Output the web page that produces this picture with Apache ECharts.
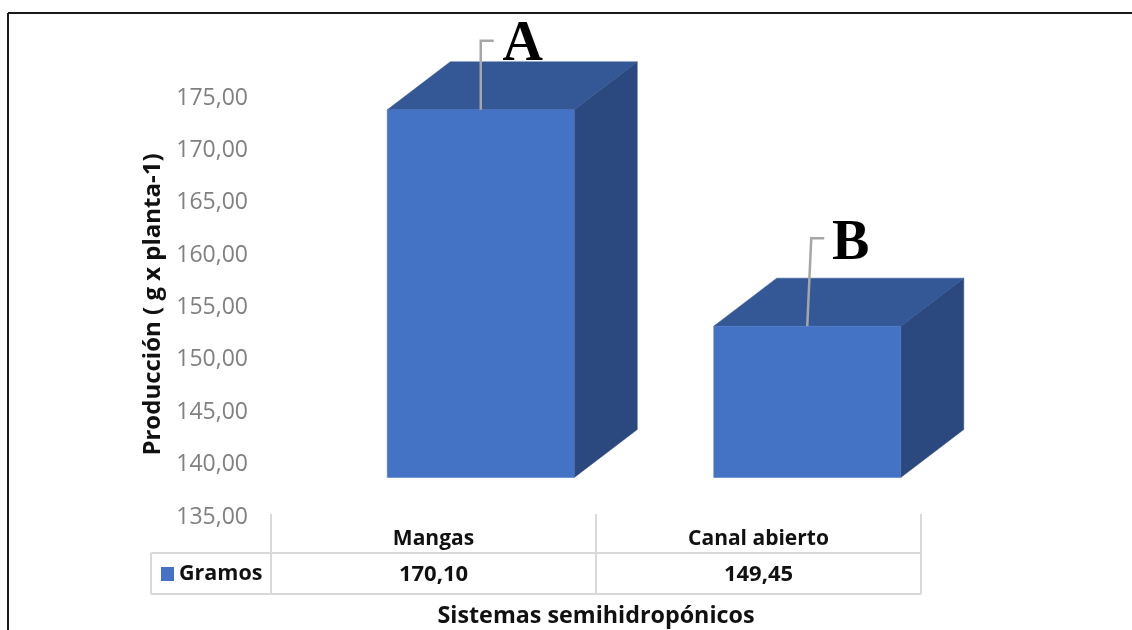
<!DOCTYPE html>
<html>
<head>
<meta charset="utf-8">
<style>html,body{margin:0;padding:0;background:#fff}#chart{width:1132px;height:630px}</style>
<script src="https://cdn.jsdelivr.net/npm/echarts@6/dist/echarts.min.js"></script>
</head>
<body>
<div id="chart"></div>
<script>
// Production per plant for each semi-hydroponic system
const categories = ['Mangas', 'Canal abierto'];
const gramos = [170.10, 149.45];
const significance = ['A', 'B'];
const valueTicks = [135, 140, 145, 150, 155, 160, 165, 170, 175];

const seriesName = 'Gramos';
const yAxisTitle = 'Producción ( g x planta-1)';
const xAxisTitle = 'Sistemas semihidropónicos';

const BLUE_FRONT = '#4472C4';
const BLUE_TOP = '#345795';
const BLUE_SIDE = '#2B487F';
const GRID_GREY = '#d9d9d9';
const LEADER_GREY = '#a6a6a6';
const SANS = '"Open Sans", "Noto Sans", sans-serif';

const comma = v => v.toFixed(2).replace('.', ',');

// Box geometry relative to the category band and value scale
const BOX = { halfWidth: 93.5, floorLift: 36.5, depthX: 63, depthY: 48 };
// Per-box shift, leader line and letter placement, relative to the front-top centre
const LEADERS = [
  { shiftX: 47.25, kneeX: 0, kneeY: -69, endX: 13, letterX: 42, letterY: -36 },
  { shiftX: 48.75, kneeX: 4, kneeY: -88, endX: 17, letterX: 43.5, letterY: -54 }
];

function renderBox(params, api) {
  const i = api.value(0);
  const top = api.coord([i, api.value(1)]);
  const base = api.coord([i, valueTicks[0]]);
  const lead = LEADERS[i];
  const cx = top[0] + lead.shiftX;
  const l = cx - BOX.halfWidth, r = cx + BOX.halfWidth;
  const t = top[1] - BOX.floorLift, b = base[1] - BOX.floorLift;
  const dx = BOX.depthX, dy = BOX.depthY;
  const face = (pts, fill) => ({
    type: 'polygon',
    shape: { points: pts },
    style: { fill: fill, stroke: fill, lineWidth: 0.5 }
  });
  return {
    type: 'group',
    children: [
      face([[r, t], [r + dx, t - dy], [r + dx, b - dy], [r, b]], BLUE_SIDE),
      face([[l, t], [l + dx, t - dy], [r + dx, t - dy], [r, t]], BLUE_TOP),
      face([[l, t], [r, t], [r, b], [l, b]], BLUE_FRONT),
      {
        type: 'polyline',
        shape: { points: [[cx, t], [cx + lead.kneeX, t + lead.kneeY], [cx + lead.endX, t + lead.kneeY]] },
        style: { fill: 'none', stroke: LEADER_GREY, lineWidth: 2.5 }
      },
      {
        type: 'text',
        style: {
          x: cx + lead.letterX, y: t + lead.letterY,
          text: significance[i],
          fill: '#000',
          font: 'bold 56px "Liberation Serif", serif',
          align: 'center', verticalAlign: 'bottom'
        }
      },
      {
        type: 'text',
        style: {
          x: top[0], y: 575,
          text: comma(api.value(1)),
          fill: '#111',
          font: 'bold 22px ' + SANS,
          align: 'center', verticalAlign: 'middle'
        }
      }
    ]
  };
}

// Outer frame and the legend/value rows of the table under the plot
function tableGraphics() {
  const line = (x1, y1, x2, y2, stroke, w) => ({
    type: 'line', silent: true,
    shape: { x1, y1, x2, y2 },
    style: { stroke, lineWidth: w }
  });
  return [
    line(8, 13, 8, 630, '#1a1a1a', 2),
    line(8, 13, 1132, 13, '#1a1a1a', 2),
    line(151, 553, 921, 553, GRID_GREY, 2),
    line(151, 594, 921, 594, GRID_GREY, 2),
    line(151, 553, 151, 594, GRID_GREY, 2)
  ];
}

const chart = echarts.init(document.getElementById('chart'), null, { renderer: 'canvas' });
chart.setOption({
  animation: false,
  backgroundColor: '#fff',
  legend: {
    data: [{ name: seriesName, icon: 'rect' }],
    left: 161, top: 563,
    itemWidth: 13, itemHeight: 14, itemGap: 8,
    padding: 0,
    textStyle: { fontFamily: SANS, fontWeight: 'bold', fontSize: 21.5, color: '#111' },
    selectedMode: false
  },
  grid: { left: 271, top: 95, width: 650, height: 419, outerBoundsMode: 'none' },
  xAxis: {
    type: 'category',
    data: categories,
    axisLine: { show: false },
    axisTick: { show: true, length: 80, lineStyle: { color: GRID_GREY, width: 2 } },
    axisLabel: { margin: 15, fontFamily: SANS, fontWeight: 'bold', fontSize: 21, color: '#111' },
    name: xAxisTitle,
    nameLocation: 'middle',
    nameGap: 91,
    nameTextStyle: { fontFamily: SANS, fontWeight: 'bold', fontSize: 23.3, color: '#111' }
  },
  yAxis: {
    type: 'value',
    min: valueTicks[0],
    max: valueTicks[valueTicks.length - 1],
    interval: 5,
    axisLine: { show: false },
    axisTick: { show: false },
    splitLine: { show: false },
    axisLabel: { margin: 23, fontFamily: SANS, fontSize: 23, color: '#808080', verticalAlign: 'top', lineHeight: 6, formatter: v => comma(v) },
    name: yAxisTitle,
    nameLocation: 'middle',
    nameRotate: 90,
    nameGap: 106,
    nameTextStyle: { fontFamily: SANS, fontWeight: 'bold', fontSize: 24, color: '#111' }
  },
  series: [{
    type: 'custom',
    name: seriesName,
    clip: false,
    itemStyle: { color: BLUE_FRONT },
    data: gramos.map((v, i) => [i, v]),
    encode: { x: 0, y: 1 },
    renderItem: renderBox
  }],
  graphic: tableGraphics()
});
</script>
</body>
</html>
